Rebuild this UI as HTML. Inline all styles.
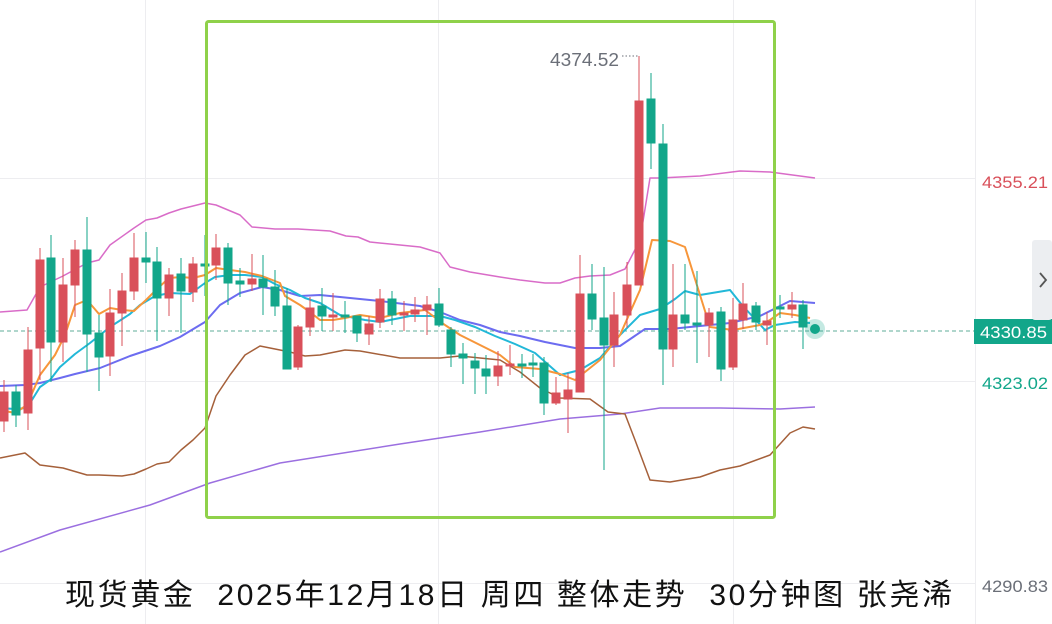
<!DOCTYPE html>
<html><head><meta charset="utf-8"><style>
html,body{margin:0;padding:0;background:#fff;width:1052px;height:624px;overflow:hidden}
svg{display:block}
</style></head><body>
<svg width="1052" height="624" xmlns="http://www.w3.org/2000/svg" font-family="Liberation Sans, Noto Sans CJK SC, sans-serif">
<g stroke="#ededf0" stroke-width="1">
<line x1="0" y1="178.5" x2="975" y2="178.5"/><line x1="0" y1="381.5" x2="975" y2="381.5"/><line x1="0" y1="583.5" x2="975" y2="583.5"/>
<line x1="145.5" y1="0" x2="145.5" y2="624"/><line x1="438.5" y1="0" x2="438.5" y2="624"/><line x1="733.5" y1="0" x2="733.5" y2="624"/>
<line x1="975.5" y1="0" x2="975.5" y2="624"/>
</g>
<line x1="0" y1="331" x2="975" y2="331" stroke="#5fae9a" stroke-dasharray="4,3" stroke-width="1"/>
<g fill="none" stroke-width="1.5" stroke-linejoin="round">
<polyline stroke="#9b6fe0" points="0,552 60,530 150,505 210,483 280,463 400,444 480,432 560,419 620,414 660,408 720,408 780,409 815,407"/>
<polyline stroke="#d96cc8" points="0,312 27,310 40,287 63,276 87,263 99,260 110,245 134,228 146,220 157,218 169,213 181,209 193,206 205,203 216,205 240,215 252,227 275,229 298,229 330,231 346,236 358,237 370,242 400,245 420,247 440,253 450,267 470,272 500,277 520,280 545,283 560,283 575,278 590,276 610,275 625,269 640,240 650,178 660,178 700,176 740,171 770,172 800,176 815,178"/>
<polyline stroke="#a5603a" points="0,458 25,453 40,465 63,468 87,475 99,475 122,476 134,474 146,469 157,464 169,462 181,450 193,440 205,428 216,396 230,375 245,355 260,346 275,349 290,352 305,356 320,355 345,350 360,351 400,358 440,358 460,356 480,358 500,360 520,372 540,388 560,398 590,399 608,412 625,414 635,440 650,480 670,482 700,477 720,470 740,466 770,455 790,433 803,427 815,429"/>
<polyline stroke="#6c6cf0" stroke-width="2" points="0,386 25,385 40,383 60,378 75,374 100,368 130,356 160,346 180,337 205,322 220,305 240,293 262,287 280,290 300,296 320,295 350,298 380,301 420,306 440,312 460,320 480,325 500,332 520,336 545,342 575,348 600,348 620,346 645,329 670,329 700,326 730,323 760,316 790,301 815,303"/>
<polyline stroke="#22b8d8" stroke-width="2" points="0,408 15,409 27,408 40,387 50,380 60,367 75,354 90,343 100,335 110,327 130,314 140,305 155,296 170,293 190,294 205,283 215,277 230,275 245,275 262,277 275,284 290,290 305,298 320,303 340,315 365,320 380,322 410,316 440,316 455,320 475,327 495,336 515,344 535,353 560,375 580,370 600,358 620,335 640,315 660,309 675,299 685,291 700,295 730,290 742,305 765,330 775,325 795,322 810,323"/>
<polyline stroke="#f7963a" stroke-width="2" points="0,410 15,413 27,405 40,375 55,355 65,335 75,305 87,300 99,314 110,308 122,310 134,311 146,300 157,289 169,278 181,277 193,278 205,275 216,268 230,270 245,272 262,276 280,283 285,296 300,305 310,312 320,320 333,320 345,318 360,315 380,318 400,313 425,310 445,325 460,335 480,345 500,355 515,367 540,369 560,374 575,380 600,360 620,335 640,290 652,240 670,241 685,247 700,295 710,327 733,330 760,325 770,320 780,313 795,315 810,318"/>
</g>
<g>
<g stroke="#d9505a" fill="#d9505a">
<line x1="4" y1="380" x2="4" y2="432"/><rect x="0" y="392" width="8" height="29"/>
<line x1="28" y1="327" x2="28" y2="430"/><rect x="24" y="350" width="8" height="63"/>
<line x1="40" y1="248" x2="40" y2="380"/><rect x="36" y="260" width="8" height="88"/>
<line x1="63" y1="258" x2="63" y2="362"/><rect x="59" y="285" width="8" height="57"/>
<line x1="75" y1="240" x2="75" y2="317"/><rect x="71" y="250" width="8" height="35"/>
<line x1="110" y1="289" x2="110" y2="376"/><rect x="106" y="313" width="8" height="43"/>
<line x1="122" y1="273" x2="122" y2="346"/><rect x="118" y="291" width="8" height="22"/>
<line x1="134" y1="233" x2="134" y2="300"/><rect x="130" y="258" width="8" height="33"/>
<line x1="169" y1="268" x2="169" y2="316"/><rect x="165" y="275" width="8" height="23"/>
<line x1="193" y1="257" x2="193" y2="302"/><rect x="189" y="264" width="8" height="28"/>
<line x1="216" y1="234" x2="216" y2="280"/><rect x="212" y="248" width="8" height="17"/>
<line x1="252" y1="254" x2="252" y2="291"/><rect x="248" y="279" width="8" height="5"/>
<line x1="298" y1="325" x2="298" y2="370"/><rect x="294" y="327" width="8" height="40"/>
<line x1="310" y1="297" x2="310" y2="336"/><rect x="306" y="308" width="8" height="19"/>
<line x1="333" y1="293" x2="333" y2="331"/><rect x="329" y="315" width="8" height="2"/>
<line x1="369" y1="316" x2="369" y2="345"/><rect x="365" y="324" width="8" height="10"/>
<line x1="380" y1="289" x2="380" y2="328"/><rect x="376" y="299" width="8" height="23"/>
<line x1="404" y1="301" x2="404" y2="331"/><rect x="400" y="313" width="8" height="2"/>
<line x1="415" y1="297" x2="415" y2="322"/><rect x="411" y="310" width="8" height="4"/>
<line x1="427" y1="296" x2="427" y2="335"/><rect x="423" y="305" width="8" height="5"/>
<line x1="498" y1="351" x2="498" y2="386"/><rect x="494" y="366" width="8" height="10"/>
<line x1="510" y1="345" x2="510" y2="375"/><rect x="506" y="364" width="8" height="2"/>
<line x1="556" y1="377" x2="556" y2="405"/><rect x="552" y="393" width="8" height="10"/>
<line x1="568" y1="373" x2="568" y2="433"/><rect x="564" y="390" width="8" height="9"/>
<line x1="580" y1="255" x2="580" y2="392"/><rect x="576" y="294" width="8" height="98"/>
<line x1="614" y1="292" x2="614" y2="367"/><rect x="610" y="315" width="8" height="30"/>
<line x1="627" y1="262" x2="627" y2="328"/><rect x="623" y="285" width="8" height="30"/>
<line x1="639" y1="56" x2="639" y2="285"/><rect x="635" y="101" width="8" height="184"/>
<line x1="673" y1="264" x2="673" y2="367"/><rect x="669" y="315" width="8" height="34"/>
<line x1="709" y1="308" x2="709" y2="357"/><rect x="705" y="313" width="8" height="12"/>
<line x1="733" y1="298" x2="733" y2="370"/><rect x="729" y="320" width="8" height="47"/>
<line x1="743" y1="283" x2="743" y2="329"/><rect x="739" y="304" width="8" height="16"/>
<line x1="767" y1="312" x2="767" y2="345"/><rect x="763" y="321" width="8" height="4"/>
<line x1="792" y1="292" x2="792" y2="318"/><rect x="788" y="305" width="8" height="4"/>
</g>
<g stroke="#12a68a" fill="#12a68a">
<line x1="16" y1="385" x2="16" y2="427"/><rect x="12" y="392" width="8" height="23"/>
<line x1="51" y1="235" x2="51" y2="382"/><rect x="47" y="258" width="8" height="84"/>
<line x1="87" y1="217" x2="87" y2="372"/><rect x="83" y="250" width="8" height="84"/>
<line x1="99" y1="315" x2="99" y2="391"/><rect x="95" y="333" width="8" height="24"/>
<line x1="146" y1="232" x2="146" y2="283"/><rect x="142" y="258" width="8" height="4"/>
<line x1="157" y1="247" x2="157" y2="341"/><rect x="153" y="262" width="8" height="36"/>
<line x1="181" y1="258" x2="181" y2="333"/><rect x="177" y="274" width="8" height="17"/>
<line x1="205" y1="235" x2="205" y2="296"/><rect x="201" y="264" width="8" height="2"/>
<line x1="228" y1="243" x2="228" y2="305"/><rect x="224" y="248" width="8" height="35"/>
<line x1="240" y1="268" x2="240" y2="297"/><rect x="236" y="281" width="8" height="3"/>
<line x1="263" y1="255" x2="263" y2="315"/><rect x="259" y="279" width="8" height="8"/>
<line x1="275" y1="270" x2="275" y2="316"/><rect x="271" y="287" width="8" height="19"/>
<line x1="287" y1="288" x2="287" y2="369"/><rect x="283" y="306" width="8" height="63"/>
<line x1="322" y1="288" x2="322" y2="331"/><rect x="318" y="306" width="8" height="10"/>
<line x1="345" y1="301" x2="345" y2="333"/><rect x="341" y="315" width="8" height="2"/>
<line x1="357" y1="316" x2="357" y2="342"/><rect x="353" y="316" width="8" height="17"/>
<line x1="392" y1="291" x2="392" y2="325"/><rect x="388" y="299" width="8" height="16"/>
<line x1="439" y1="288" x2="439" y2="327"/><rect x="435" y="304" width="8" height="21"/>
<line x1="451" y1="327" x2="451" y2="367"/><rect x="447" y="330" width="8" height="24"/>
<line x1="463" y1="343" x2="463" y2="384"/><rect x="459" y="354" width="8" height="4"/>
<line x1="475" y1="353" x2="475" y2="394"/><rect x="471" y="361" width="8" height="7"/>
<line x1="486" y1="355" x2="486" y2="394"/><rect x="482" y="369" width="8" height="7"/>
<line x1="522" y1="354" x2="522" y2="378"/><rect x="518" y="364" width="8" height="2"/>
<line x1="533" y1="354" x2="533" y2="377"/><rect x="529" y="363" width="8" height="2"/>
<line x1="544" y1="357" x2="544" y2="415"/><rect x="540" y="363" width="8" height="40"/>
<line x1="592" y1="264" x2="592" y2="330"/><rect x="588" y="294" width="8" height="25"/>
<line x1="604" y1="267" x2="604" y2="470"/><rect x="600" y="318" width="8" height="27"/>
<line x1="651" y1="73" x2="651" y2="169"/><rect x="647" y="99" width="8" height="44"/>
<line x1="663" y1="124" x2="663" y2="385"/><rect x="659" y="144" width="8" height="205"/>
<line x1="685" y1="264" x2="685" y2="330"/><rect x="681" y="315" width="8" height="8"/>
<line x1="697" y1="271" x2="697" y2="363"/><rect x="693" y="323" width="8" height="2"/>
<line x1="721" y1="307" x2="721" y2="381"/><rect x="717" y="312" width="8" height="57"/>
<line x1="756" y1="302" x2="756" y2="330"/><rect x="752" y="306" width="8" height="16"/>
<line x1="780" y1="295" x2="780" y2="318"/><rect x="776" y="307" width="8" height="2"/>
<line x1="803" y1="300" x2="803" y2="349"/><rect x="799" y="305" width="8" height="22"/>
</g>
</g>
<circle cx="815" cy="329" r="10" fill="#12a68a" opacity="0.25"/>
<circle cx="815" cy="329" r="5" fill="#12a68a"/>
<rect x="206.5" y="21.5" width="568" height="496" fill="none" stroke="#8fd14a" stroke-width="3" rx="2"/>
<text x="550" y="66" font-size="18" fill="#6b6f78" textLength="69" lengthAdjust="spacingAndGlyphs">4374.52</text>
<line x1="622" y1="56" x2="639" y2="56" stroke="#6b6f78" stroke-dasharray="1.5,2"/>
<text x="982" y="188" font-size="17" fill="#d9505a" textLength="66" lengthAdjust="spacingAndGlyphs">4355.21</text>
<rect x="974" y="319" width="78" height="25" fill="#12a68a"/>
<text x="980" y="338" font-size="17" fill="#fff" textLength="67" lengthAdjust="spacingAndGlyphs">4330.85</text>
<text x="982" y="389" font-size="17" fill="#12a68a" textLength="66" lengthAdjust="spacingAndGlyphs">4323.02</text>
<text x="982" y="592" font-size="17" fill="#6b6f78" textLength="66" lengthAdjust="spacingAndGlyphs">4290.83</text>
<rect x="1032" y="240" width="20" height="80" fill="#eceef1" rx="3"/>
<polyline points="1040,273 1046,280 1040,287" fill="none" stroke="#555" stroke-width="1.8"/>
<text x="65" y="605" font-size="30" fill="#111" xml:space="preserve" style="white-space:pre" textLength="887" lengthAdjust="spacing">现货黄金  2025年12月18日 周四 整体走势  30分钟图 张尧浠</text>
</svg>
</body></html>
